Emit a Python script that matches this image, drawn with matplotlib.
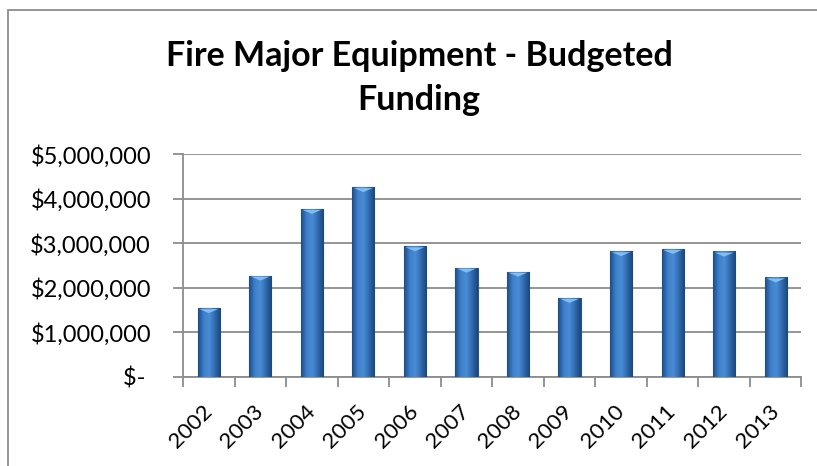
import numpy as np
import matplotlib.pyplot as plt
import matplotlib.transforms as mtransforms
from matplotlib.patches import Rectangle, Polygon
from matplotlib.colors import LinearSegmentedColormap

years = ['2002', '2003', '2004', '2005', '2006', '2007',
         '2008', '2009', '2010', '2011', '2012', '2013']
funding = [1540000, 2270000, 3770000, 4260000, 2930000, 2450000,
           2360000, 1770000, 2820000, 2870000, 2810000, 2230000]
y_ticks = [0, 1000000, 2000000, 3000000, 4000000, 5000000]
y_labels = ['$- ', '$1,000,000', '$2,000,000', '$3,000,000', '$4,000,000', '$5,000,000']

plt.rcParams['font.family'] = ['Lato', 'DejaVu Sans']

fig = plt.figure(figsize=(8.17, 4.66), dpi=100)
# outer chart frame (runs off the right and bottom edges)
fig.patches.append(Rectangle((8 / 817, -0.1), 1.2, 1.1 - 10 / 466, transform=fig.transFigure,
                             fill=False, edgecolor='#8c8c8c', linewidth=1.3))

ax = fig.add_axes([0.224, 0.1916, 0.757, 0.4773])
x = np.arange(len(years))
width = 0.43
bars = ax.bar(x, funding, width=width, color='#2f6db5', edgecolor='#24558f',
              linewidth=0.8, zorder=3)

# cylinder-like shading inside each bar
shade = LinearSegmentedColormap.from_list('shade', ['#1d4c86', '#3f80cc', '#4a8cd6', '#2f69ad', '#1b4679'])
grad = np.linspace(0, 1, 64).reshape(1, -1)
for b in bars:
    x0, w, h = b.get_x(), b.get_width(), b.get_height()
    ax.imshow(grad, cmap=shade, aspect='auto', extent=(x0, x0 + w, 0, h), zorder=3.5)
    ax.add_patch(Polygon([(x0 + w * 0.08, h - 20000), (x0 + w * 0.92, h - 20000),
                          (x0 + w * 0.5, h - 110000)], closed=True,
                         facecolor='#7fbdf3', edgecolor='none', zorder=4))

ax.set_xlim(-0.5, len(years) - 0.5)
ax.set_ylim(0, 5000000)
ax.set_yticks(y_ticks)
ax.set_yticklabels(y_labels, fontsize=17)
ax.set_xticks(x)
ax.set_xticklabels(years, fontsize=16, rotation=45, ha='right', va='center',
                   rotation_mode='anchor')
shift = mtransforms.ScaledTranslation(-3 / 100, 0, fig.dpi_scale_trans)
for lbl in ax.get_xticklabels():
    lbl.set_transform(lbl.get_transform() + shift)
ax.set_xticks(np.arange(-0.5, len(years)), minor=True)
ax.tick_params(axis='x', which='major', length=0, pad=23)
ax.tick_params(axis='x', which='minor', length=7, color='#8c8c8c', width=1.3)
ax.tick_params(axis='y', length=7, color='#8c8c8c', width=1.3, pad=16)
ax.grid(axis='y', color='#8c8c8c', linewidth=1.3, zorder=0)
for s in ['top', 'right']:
    ax.spines[s].set_visible(False)
for s in ['left', 'bottom']:
    ax.spines[s].set_color('#8c8c8c')
    ax.spines[s].set_linewidth(1.3)

fig.text(0.513, 0.833, 'Fire Major Equipment - Budgeted\nFunding', ha='center', va='center',
         fontsize=24.5, fontweight='bold', linespacing=1.45)

fig.savefig('out.png', dpi=100)
